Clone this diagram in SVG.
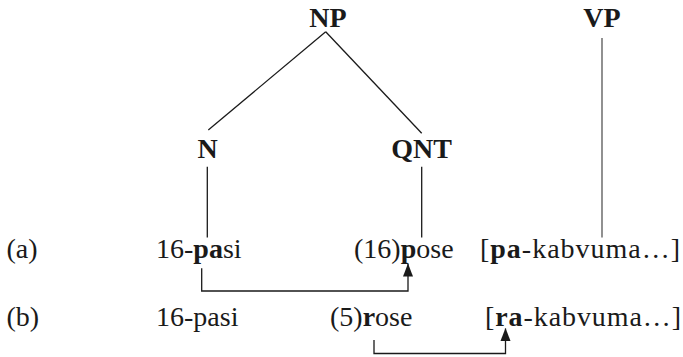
<svg xmlns="http://www.w3.org/2000/svg" width="683" height="357" viewBox="0 0 683 357">
  <style>
    text { font-family: "Liberation Serif", "Times New Roman", serif; font-size: 28px; fill: #1a1a1a; }
    .cat { font-weight: bold; text-anchor: middle; }
    .b { font-weight: bold; }
    .edge { stroke: #1a1a1a; stroke-width: 1.3; fill: none; }
    .vp { stroke: #555; }
    .arrow { stroke: #1a1a1a; stroke-width: 1.3; fill: none; marker-end: url(#head); }
  </style>
  <defs>
    <marker id="head" markerUnits="userSpaceOnUse" markerWidth="12" markerHeight="14" refX="5" refY="0.5" orient="auto" viewBox="0 0 10 14" overflow="visible">
      <path d="M0,13 L5,0 L10,13 Z" fill="#1a1a1a" transform="rotate(90 5 0.5)"/>
    </marker>
  </defs>

  <rect width="683" height="357" fill="#fff"/>

  <!-- tree branches and agreement arrows -->
  <g id="connectors">
    <line class="edge" x1="325.7" y1="31.7" x2="208.3" y2="130"/>
    <line class="edge" x1="325.7" y1="31.7" x2="421.7" y2="133.3"/>
    <line class="edge" x1="207.3" y1="166.7" x2="207.3" y2="237.5"/>
    <line class="edge" x1="421.7" y1="166.7" x2="421.7" y2="237.5"/>
    <line class="edge vp" x1="602" y1="38" x2="602" y2="237.5"/>
    <path class="arrow" d="M201.7,268.3 V291 H408 V264"/>
    <path class="arrow" d="M374,340 V353.5 H505.5 V328.5"/>
  </g>

  <g id="np"><text class="cat" x="328" y="27.3">NP</text></g>
  <g id="vp"><text class="cat" x="602" y="27.3">VP</text></g>
  <g id="n"><text class="cat" x="207.5" y="158.3">N</text></g>
  <g id="qnt"><text class="cat" x="421.7" y="158.3">QNT</text></g>

  <!-- row (a) -->
  <g id="row-a">
    <text x="6.5" y="257.5">(a)</text>
    <text x="156" y="257.5">16-<tspan class="b">pa</tspan>si</text>
    <text x="354" y="257.5">(16)<tspan class="b">p</tspan>ose</text>
    <text x="480" y="257.5" textLength="200" lengthAdjust="spacing">[<tspan class="b">pa</tspan>-kabvuma…]</text>
  </g>

  <!-- row (b) -->
  <g id="row-b">
    <text x="6.5" y="325.5">(b)</text>
    <text x="156" y="325.5">16-pasi</text>
    <text x="330" y="325.5">(5)<tspan class="b">r</tspan>ose</text>
    <text x="485" y="325.5" textLength="196" lengthAdjust="spacing">[<tspan class="b">ra</tspan>-kabvuma…]</text>
  </g>
</svg>
